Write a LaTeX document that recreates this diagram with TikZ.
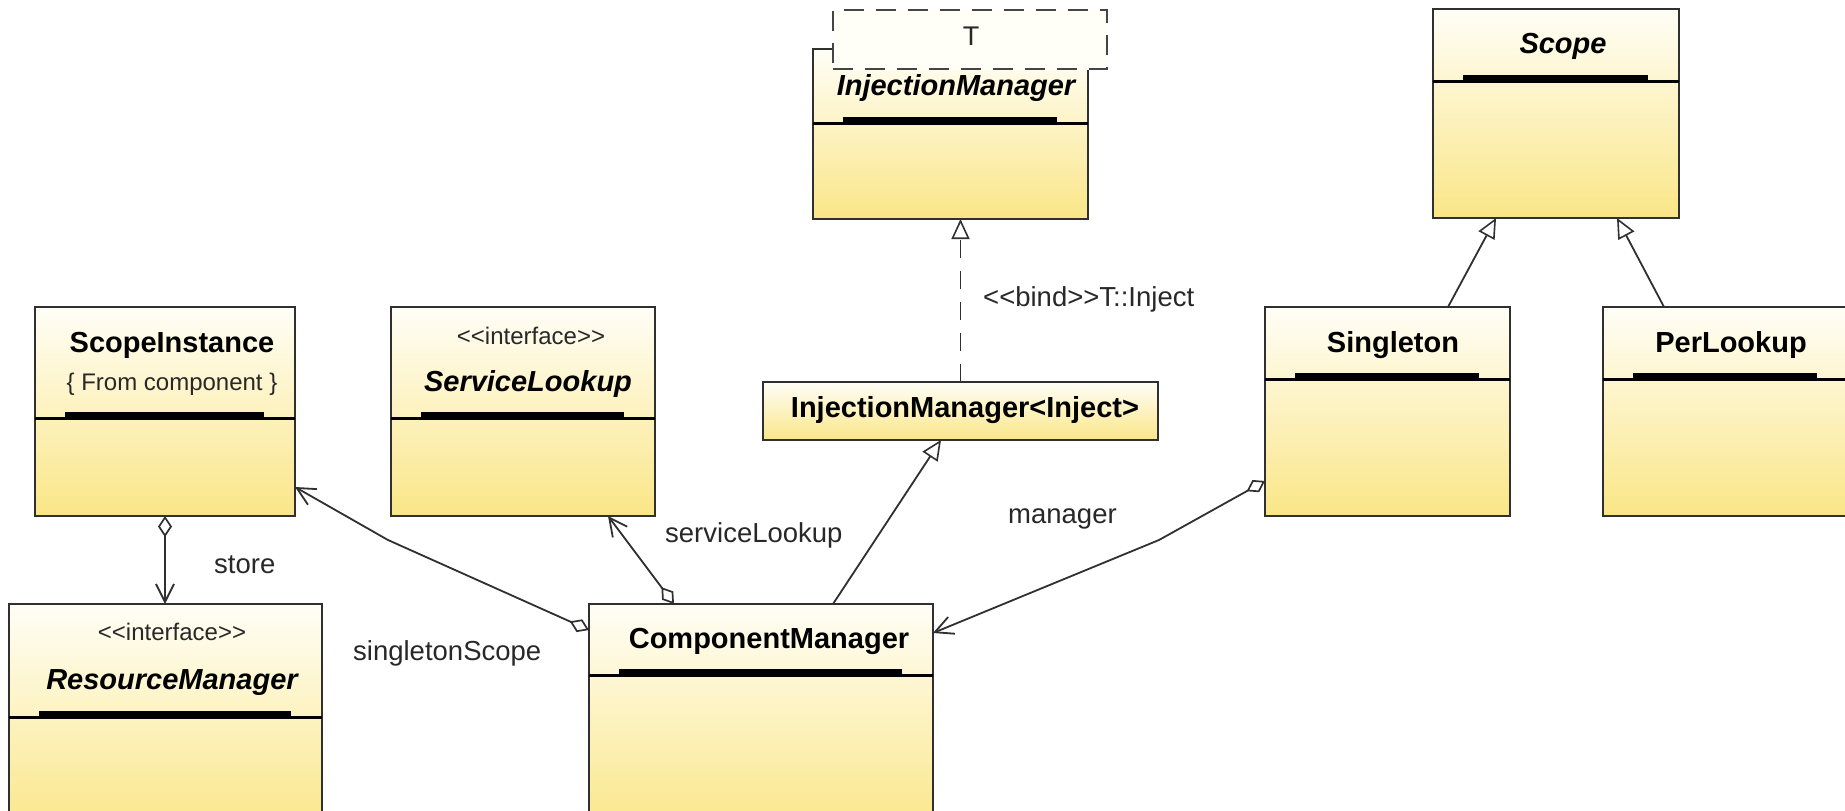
\documentclass[tikz,border=0pt]{standalone}
\usepackage{fontspec}
\setmainfont{Liberation Sans}
\usetikzlibrary{arrows.meta}
\definecolor{ctop}{RGB}{255,254,247}
\definecolor{cbot}{RGB}{250,230,135}
\definecolor{cline}{RGB}{48,48,48}
\definecolor{ctext}{RGB}{40,40,40}
\newcommand\compart[2]{%
  \draw[line width=3pt,black] ([yshift=-#2pt]#1.north west) -- ([yshift=-#2pt]#1.north east);
  \fill[black] ([xshift=30pt,yshift=-#2pt]#1.north west) rectangle ([xshift=-31pt,yshift=-#2pt+6pt]#1.north east);}
\begin{document}
\begin{tikzpicture}[x=1pt,y=-1pt,
  umlbox/.style={draw=cline, line width=2pt, top color=ctop, bottom color=cbot,
    anchor=north west, inner sep=0pt, outer sep=0pt},
  ttl/.style={font=\fontsize{29}{34}\selectfont\bfseries, anchor=base, inner sep=0pt},
  ittl/.style={ttl, font=\fontsize{29}{34}\selectfont\bfseries\itshape},
  stereo/.style={font=\fontsize{24}{28}\selectfont, anchor=base, inner sep=0pt, text=ctext},
  lbl/.style={font=\fontsize{27.5}{33}\selectfont, anchor=base west, inner sep=0pt, text=ctext},
  conn/.style={draw=cline, line width=1.8pt},
  assoc/.style={conn, {Diamond[open,fill=white,length=21pt,width=14pt,line width=1.7pt]}-{Straight Barb[length=18pt,width=18pt,line width=1.8pt]}},
  gen/.style={conn, -{Triangle[open,fill=white,length=20pt,width=18pt,line width=1.6pt]}},
  realz/.style={gen, dash pattern=on 18pt off 13pt}]
\useasboundingbox (0,0) rectangle (1845,811);
\clip (0,0) rectangle (1845,811);
\fill[white] (0,0) rectangle (1845,811);

% boxes
\node[umlbox, minimum width=260pt, minimum height=209pt] (si) at (35,307) {};
\node[umlbox, minimum width=264pt, minimum height=209pt] (sl) at (391,307) {};
\node[umlbox, minimum width=313pt, minimum height=230pt] (rm) at (9,604) {};
\node[umlbox, minimum width=344pt, minimum height=230pt] (cm) at (589,604) {};
\node[umlbox, minimum width=275pt, minimum height=170pt] (im) at (813,49) {};
\node[umlbox, draw=cline!90, top color=ctop, bottom color=ctop, fill=ctop, dash pattern=on 20pt off 12pt,
      minimum width=274pt, minimum height=59pt] (tp) at (833,10) {};
\node[umlbox, minimum width=395pt, minimum height=58pt] (imi) at (763,382) {};
\node[umlbox, minimum width=245pt, minimum height=209pt] (sg) at (1265,307) {};
\node[umlbox, minimum width=245pt, minimum height=209pt] (pl) at (1603,307) {};
\node[umlbox, minimum width=246pt, minimum height=209pt] (sc) at (1433,9) {};

% compartments
\compart{si}{111}
\compart{sl}{111}
\compart{rm}{113}
\compart{cm}{71}
\compart{im}{74}
\compart{sg}{72}
\compart{pl}{72}
\compart{sc}{72}

% texts
\node[ttl] (tsi) at (172,352) {ScopeInstance};
\node[stereo] (tsi2) at (172,390) {\{ From component \}};
\node[stereo] (tsl1) at (531,344) {<{}<interface>{}>};
\node[ittl] (tsl) at (528,391) {ServiceLookup};
\node[stereo] (trm1) at (172,640) {<{}<interface>{}>};
\node[ittl] (trm) at (172,689) {ResourceManager};
\node[ttl] (tcm) at (769,648) {ComponentManager};
\node[ttl] (timi) at (965,417) {InjectionManager<Inject>};
\node[ittl] (tim) at (956,95) {InjectionManager};
\node[stereo, font=\fontsize{27}{32}\selectfont] (ttp) at (971,45) {T};
\node[ittl] (tsc) at (1563,53) {Scope};
\node[ttl] (tsg) at (1393,352) {Singleton};
\node[ttl] (tpl) at (1731,352) {PerLookup};

% bend points
\coordinate (b1) at (388,540);
\coordinate (b2) at (1159,540);

% connectors
\draw[assoc] (si.south) -- (si.south |- rm.north);
\draw[assoc] ([yshift=-26pt]cm.north west) -- (b1) -- ([yshift=-180pt]si.north east);
\draw[assoc] ([xshift=85pt]cm.north west) -- ([xshift=217pt]sl.south west);
\draw[assoc] ([yshift=-174pt]sg.north west) -- (b2) -- ([yshift=-29pt]cm.north east);
\draw[gen] ([xshift=244pt]cm.north west) -- ([xshift=178pt]imi.south west);
\draw[realz] (imi.north) -- (imi.north |- im.south);
\draw[gen] ([xshift=183pt]sg.north west) -- ([xshift=63pt]sc.south west);
\draw[gen] ([xshift=61pt]pl.north west) -- ([xshift=184pt]sc.south west);

% labels
\node[lbl] (lbind) at (983,306) {<{}<bind>{}>T::Inject};
\node[lbl] (lstore) at (214,573) {store};
\node[lbl] (lss) at (353,660) {singletonScope};
\node[lbl] (lsl) at (665,542) {serviceLookup};
\node[lbl] (lmgr) at (1008,523) {manager};
\end{tikzpicture}
\end{document}
